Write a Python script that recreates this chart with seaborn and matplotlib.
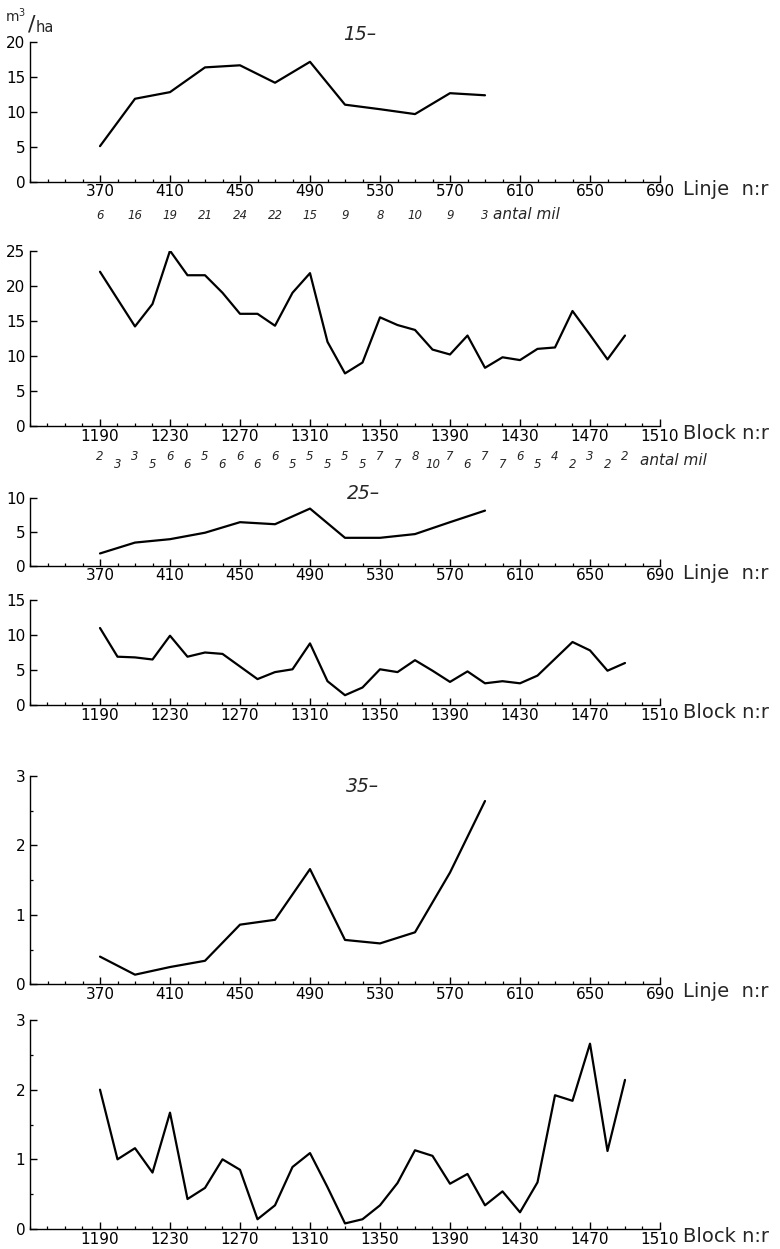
import matplotlib
matplotlib.use("Agg")
import matplotlib.pyplot as plt
import seaborn as sns
import pandas as pd
from matplotlib.ticker import MultipleLocator, FixedLocator

# ---------------- data ----------------
linje_nr = [370, 390, 410, 430, 450, 470, 490, 510, 530, 550, 570, 590]
block_nr = [1190, 1200, 1210, 1220, 1230, 1240, 1250, 1260, 1270, 1280,
            1290, 1300, 1310, 1320, 1330, 1340, 1350, 1360, 1370, 1380,
            1390, 1400, 1410, 1420, 1430, 1440, 1450, 1460, 1470, 1480, 1490]

linje15 = [5.1, 11.9, 12.85, 16.4, 16.7, 14.2, 17.2, 11.05, 10.4, 9.7, 12.7, 12.4]
block15 = [22.0, 18.1, 14.2, 17.4, 25.0, 21.5, 21.5, 19.0, 16.0, 16.0,
           14.3, 19.0, 21.8, 12.0, 7.5, 9.05, 15.5, 14.4, 13.7, 10.9,
           10.2, 12.9, 8.3, 9.8, 9.4, 11.0, 11.2, 16.4, 13.0, 9.5, 12.9]

linje25 = [1.8, 3.4, 3.9, 4.85, 6.4, 6.1, 8.4, 4.1, 4.1, 4.65, 6.4, 8.1]
block25 = [11.0, 6.9, 6.8, 6.5, 9.9, 6.9, 7.5, 7.3, 5.5, 3.7,
           4.7, 5.1, 8.8, 3.4, 1.4, 2.5, 5.1, 4.7, 6.4, 4.9,
           3.3, 4.8, 3.1, 3.4, 3.1, 4.2, 6.6, 9.0, 7.8, 4.9, 6.0]

linje35 = [0.40, 0.14, 0.25, 0.34, 0.86, 0.93, 1.66, 0.64, 0.59, 0.75, 1.61, 2.64]
block35 = [2.0, 1.0, 1.16, 0.81, 1.67, 0.43, 0.59, 1.0, 0.85, 0.14,
           0.34, 0.89, 1.09, 0.60, 0.08, 0.14, 0.34, 0.66, 1.13, 1.05,
           0.65, 0.79, 0.34, 0.54, 0.24, 0.67, 1.92, 1.84, 2.66, 1.12, 2.14]

antal_mil_linje = [6, 16, 19, 21, 24, 22, 15, 9, 8, 10, 9, 3]
antal_mil_block = [2, 3, 3, 5, 6, 6, 5, 6, 6, 6, 6, 5, 5, 5, 5, 5, 7, 7, 8, 10,
                   7, 6, 7, 7, 6, 5, 4, 2, 3, 2, 2]

linje_ticks = [370, 410, 450, 490, 530, 570, 610, 650, 690]
block_ticks = [1190, 1230, 1270, 1310, 1350, 1390, 1430, 1470, 1510]
group_titles = ["15\u2013", "25\u2013", "35\u2013"]
linje_label = "Linje  n:r"
block_label = "Block n:r"
antal_label = "antal mil"
unit_label = ("m$^3$", "/", "ha")

# ---------------- layout ----------------
W, H = 780, 1249
sns.set_style("ticks")
plt.rcParams["font.family"] = ["DejaVu Sans"]
fig = plt.figure(figsize=(W / 100, H / 100), dpi=100)


def add_panel(top_px, bottom_px):
    left, right = 30, 660
    return fig.add_axes([left / W, 1 - bottom_px / H, (right - left) / W,
                         (bottom_px - top_px) / H])


panels = [
    (42.3, 181.7, "linje", linje15, 20, 5, None),
    (250.7, 426.0, "block", block15, 25, 5, None),
    (497.7, 565.7, "linje", linje25, 10, 5, None),
    (600.0, 705.0, "block", block25, 15, 5, None),
    (776.0, 984.4, "linje", linje35, 3, 1, 0.5),
    (1020.0, 1229.0, "block", block35, 3, 1, 0.5),
]

axes = []
for top, bottom, kind, vals, ymax, ystep, yminor in panels:
    ax = add_panel(top, bottom)
    if kind == "linje":
        df = pd.DataFrame({"nr": linje_nr, "v": vals})
        xmin, xmax, xt, lab = 330, 690, linje_ticks, linje_label
    else:
        df = pd.DataFrame({"nr": block_nr, "v": vals})
        xmin, xmax, xt, lab = 1150, 1510, block_ticks, block_label
    sns.lineplot(data=df, x="nr", y="v", ax=ax, color="black", lw=1.6)
    ax.set_xlim(xmin, xmax)
    ax.set_ylim(0, ymax)
    ax.xaxis.set_major_locator(FixedLocator(xt))
    ax.xaxis.set_minor_locator(MultipleLocator(10))
    ax.yaxis.set_major_locator(MultipleLocator(ystep))
    if yminor:
        ax.yaxis.set_minor_locator(MultipleLocator(yminor))
    ax.set_xlabel("")
    ax.set_ylabel("")
    sns.despine(ax=ax)
    for s in ("left", "bottom"):
        ax.spines[s].set_linewidth(1.0)
        ax.spines[s].set_color("black")
    ax.tick_params(axis="both", which="major", direction="in", length=5,
                   width=1.0, color="black", labelsize=11, labelcolor="black")
    ax.tick_params(axis="both", which="minor", direction="in", length=2.5,
                   width=0.9, color="black")
    ax.tick_params(axis="x", which="major", pad=2)
    ax.tick_params(axis="y", which="major", pad=3.5)
    ax.patch.set_alpha(0)
    ax.annotate(lab, xy=(1, 0), xycoords="axes fraction",
                xytext=(23, -13), textcoords="offset pixels",
                ha="left", va="baseline", fontsize=14)
    axes.append(ax)

# antal mil rows
ax1 = axes[0]
for x, n in zip(linje_nr, antal_mil_linje):
    ax1.annotate(str(n), xy=(x, 0), xycoords=("data", "axes fraction"),
                 xytext=(0, -34), textcoords="offset pixels",
                 ha="center", va="center", fontsize=8.5, style="italic")
ax1.annotate(antal_label, xy=(linje_nr[-1], 0),
             xycoords=("data", "axes fraction"),
             xytext=(8, -33), textcoords="offset pixels",
             ha="left", va="center", fontsize=11, style="italic")

ax2 = axes[1]
for i, (x, n) in enumerate(zip(block_nr, antal_mil_block)):
    dy = -30 if i % 2 == 0 else -38
    ax2.annotate(str(n), xy=(x, 0), xycoords=("data", "axes fraction"),
                 xytext=(0, dy), textcoords="offset pixels",
                 ha="center", va="center", fontsize=8.5, style="italic")
ax2.annotate(antal_label, xy=(block_nr[-1], 0),
             xycoords=("data", "axes fraction"),
             xytext=(15, -34), textcoords="offset pixels",
             ha="left", va="center", fontsize=11, style="italic")

# group titles
for (cx, cy), t in zip([(360, 35), (363, 493), (363, 787)], group_titles):
    fig.text(cx / W, 1 - cy / H, t, ha="center", va="center",
             fontsize=13.5, style="italic")

# unit label m3/ha
fig.text(5 / W, 1 - 22 / H, unit_label[0], ha="left", va="baseline", fontsize=10)
fig.text(28 / W, 1 - 31 / H, unit_label[1], ha="left", va="baseline", fontsize=16)
fig.text(36 / W, 1 - 32 / H, unit_label[2], ha="left", va="baseline", fontsize=10.5)

fig.savefig("out.png", dpi=100, facecolor="white")
